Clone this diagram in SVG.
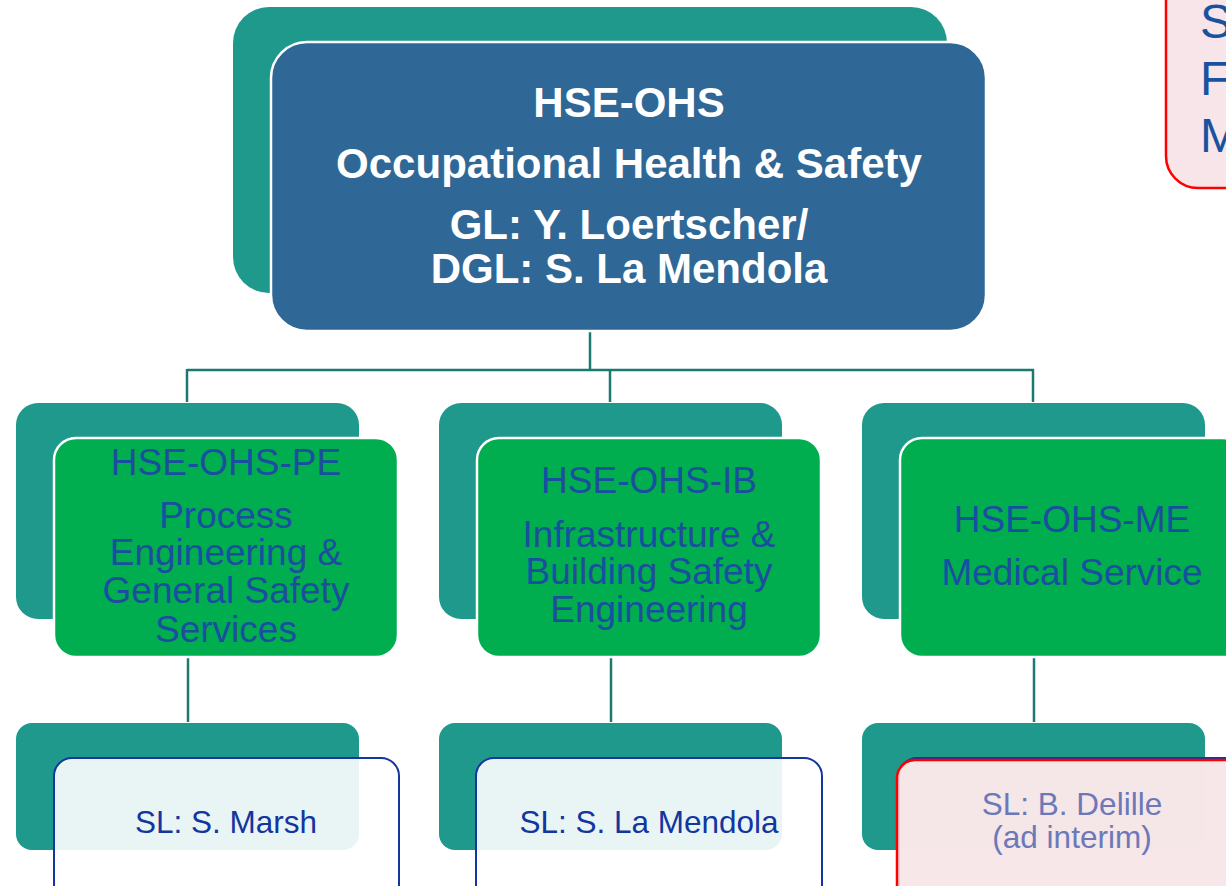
<svg xmlns="http://www.w3.org/2000/svg" width="1226" height="886" viewBox="0 0 1226 886">
<style>
.back{fill:#1e998c}
.main{fill:#2f6896;stroke:#ffffff;stroke-width:2.5}
.green{fill:#00ad4f;stroke:#ffffff;stroke-width:2.5}
.sl{fill:#ffffff;fill-opacity:0.9;stroke:#1436a0;stroke-width:2}
.conn{stroke:#1a7a70;stroke-width:2.5;fill:none}
.t-main{font-family:"Liberation Sans",Arial,sans-serif;font-weight:bold;font-size:42px;fill:#ffffff;text-anchor:middle}
.t-mid{font-family:"Liberation Sans",Arial,sans-serif;font-size:37px;fill:#1a4fa0;text-anchor:middle}
.t-sl{font-family:"Liberation Sans",Arial,sans-serif;font-size:31.5px;fill:#1236a0;text-anchor:middle}
.t-note{font-family:"Liberation Sans",Arial,sans-serif;font-size:48px;fill:#1a52a0}
</style>
<rect width="1226" height="886" fill="#ffffff"/>

<g id="connectors">
  <line class="conn" x1="590" y1="332" x2="590" y2="370"/>
  <line class="conn" x1="187" y1="370" x2="1034" y2="370"/>
  <line class="conn" x1="187" y1="369" x2="187" y2="402"/>
  <line class="conn" x1="610" y1="369" x2="610" y2="402"/>
  <line class="conn" x1="1033" y1="369" x2="1033" y2="402"/>
  <line class="conn" x1="188" y1="657" x2="188" y2="722"/>
  <line class="conn" x1="611" y1="657" x2="611" y2="722"/>
  <line class="conn" x1="1034" y1="657" x2="1034" y2="722"/>
</g>

<g id="note">
  <rect x="1166" y="-30" width="110" height="218" rx="32" fill="#f7e5e9" stroke="#ff0000" stroke-width="2.5"/>
  <text class="t-note" x="1200" y="38">S</text>
  <text class="t-note" x="1200" y="95">F</text>
  <text class="t-note" x="1200" y="152">M</text>
</g>

<g id="node-ohs">
  <rect class="back" x="233" y="7" width="714" height="286" rx="36"/>
  <rect class="main" x="271" y="42" width="715" height="289" rx="36"/>
  <text class="t-main" x="629" y="117">HSE-OHS</text>
  <text class="t-main" x="629" y="178">Occupational Health &amp; Safety</text>
  <text class="t-main" x="629" y="239">GL: Y. Loertscher/</text>
  <text class="t-main" x="629" y="283">DGL: S. La Mendola</text>
</g>

<g id="node-pe">
  <rect class="back" x="16" y="403" width="343" height="216" rx="22"/>
  <rect class="green" x="54" y="438" width="344" height="219" rx="22"/>
  <text class="t-mid" x="226" y="475">HSE-OHS-PE</text>
  <text class="t-mid" x="226" y="528">Process</text>
  <text class="t-mid" x="226" y="565">Engineering &amp;</text>
  <text class="t-mid" x="226" y="603">General Safety</text>
  <text class="t-mid" x="226" y="642">Services</text>
</g>

<g id="node-ib">
  <rect class="back" x="439" y="403" width="343" height="216" rx="22"/>
  <rect class="green" x="477" y="438" width="344" height="219" rx="22"/>
  <text class="t-mid" x="649" y="493">HSE-OHS-IB</text>
  <text class="t-mid" x="649" y="547">Infrastructure &amp;</text>
  <text class="t-mid" x="649" y="584">Building Safety</text>
  <text class="t-mid" x="649" y="622">Engineering</text>
</g>

<g id="node-me">
  <rect class="back" x="862" y="403" width="343" height="216" rx="22"/>
  <rect class="green" x="900" y="438" width="344" height="219" rx="22"/>
  <text class="t-mid" x="1072" y="532">HSE-OHS-ME</text>
  <text class="t-mid" x="1072" y="585">Medical Service</text>
</g>

<g id="node-sl-pe">
  <rect class="back" x="16" y="723" width="343" height="127" rx="16"/>
  <rect class="sl" x="54" y="758" width="345" height="150" rx="18"/>
  <text class="t-sl" x="226" y="833">SL: S. Marsh</text>
</g>

<g id="node-sl-ib">
  <rect class="back" x="439" y="723" width="343" height="127" rx="16"/>
  <rect class="sl" x="476" y="758" width="346" height="150" rx="18"/>
  <text class="t-sl" x="649" y="833">SL: S. La Mendola</text>
</g>

<g id="node-sl-me">
  <rect class="back" x="862" y="723" width="343" height="127" rx="16"/>
  <rect class="sl" x="899" y="758" width="346" height="150" rx="18"/>
  <rect x="897" y="760" width="346" height="150" rx="18" fill="#f6e4e7" fill-opacity="0.9" stroke="#ff0000" stroke-width="2.5"/>
  <text class="t-sl" x="1072" y="815" style="fill:#6b79b9">SL: B. Delille</text>
  <text class="t-sl" x="1072" y="848" style="fill:#6b79b9">(ad interim)</text>
</g>
</svg>
